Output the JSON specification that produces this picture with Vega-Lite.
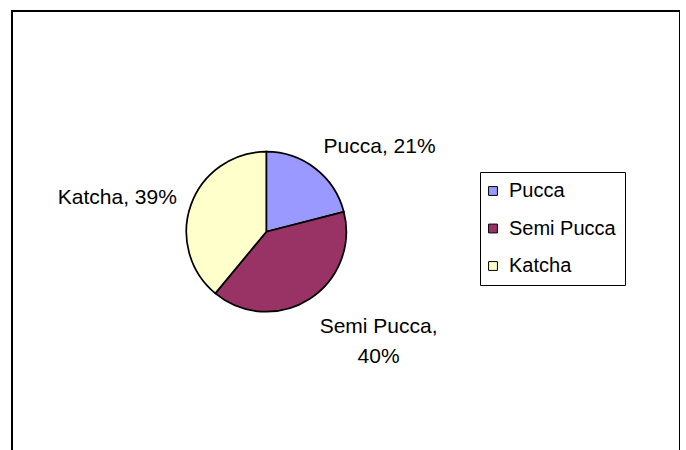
{
  "$schema": "https://vega.github.io/schema/vega-lite/v6.json",
  "width": 668,
  "height": 460,
  "autosize": {"type": "none"},
  "padding": {"left": 12, "top": 11, "right": 0, "bottom": 0},
  "background": "white",
  "view": {"stroke": "black", "strokeWidth": 2, "fill": null},
  "config": {
    "view": {"stroke": "black", "strokeWidth": 2},
    "font": "Liberation Sans"
  },
  "data": {
    "values": [
      {"type": "Pucca", "share": 21, "rank": 1, "label": "Pucca, 21%"},
      {"type": "Semi Pucca", "share": 40, "rank": 2, "label": "Semi Pucca,\n40%"},
      {"type": "Katcha", "share": 39, "rank": 3, "label": "Katcha, 39%"}
    ]
  },
  "encoding": {
    "theta": {"field": "share", "type": "quantitative", "stack": true},
    "order": {"field": "rank", "type": "quantitative"}
  },
  "layer": [
    {
      "mark": {"type": "arc", "outerRadius": 80, "x": 254.3, "y": 220.7, "stroke": "black", "strokeWidth": 1.7},
      "encoding": {
        "color": {
          "field": "type",
          "type": "nominal",
          "scale": {"domain": ["Pucca", "Semi Pucca", "Katcha"], "range": ["#9999FF", "#993366", "#FFFFCC"]},
          "legend": {
            "title": null,
            "orient": "none",
            "legendX": 468,
            "legendY": 161,
            "strokeColor": "black",
            "padding": 9,
            "symbolType": "square",
            "symbolSize": 78,
            "symbolOffset": -6,
            "symbolStrokeColor": "black",
            "symbolStrokeWidth": 1,
            "symbolOpacity": 1,
            "labelFont": "Liberation Sans",
            "labelFontSize": 20,
            "labelColor": "black",
            "labelOffset": 6,
            "rowPadding": 17.5,
            "labelLimit": 300
          }
        }
      }
    },
    {
      "mark": {"type": "text", "x": 254.3, "y": 220.7, "radius": 100, "align": "left", "baseline": "alphabetic", "dx": -4, "fontSize": 21, "font": "Liberation Sans", "color": "black"},
      "encoding": {
        "detail": {"field": "type", "type": "nominal"},
        "text": {"condition": {"test": "datum.type === 'Pucca'", "field": "label", "type": "nominal"}, "value": ""}
      }
    },
    {
      "mark": {"type": "text", "x": 254.3, "y": 220.7, "radius": 120, "align": "center", "baseline": "alphabetic", "dx": 48, "fontSize": 21, "lineHeight": 30, "lineBreak": "\n", "font": "Liberation Sans", "color": "black"},
      "encoding": {
        "detail": {"field": "type", "type": "nominal"},
        "text": {"condition": {"test": "datum.type === 'Semi Pucca'", "field": "label", "type": "nominal"}, "value": ""}
      }
    },
    {
      "mark": {"type": "text", "x": 254.3, "y": 220.7, "radius": 95, "align": "right", "baseline": "alphabetic", "dy": 4, "fontSize": 21, "font": "Liberation Sans", "color": "black"},
      "encoding": {
        "detail": {"field": "type", "type": "nominal"},
        "text": {"condition": {"test": "datum.type === 'Katcha'", "field": "label", "type": "nominal"}, "value": ""}
      }
    }
  ]
}
